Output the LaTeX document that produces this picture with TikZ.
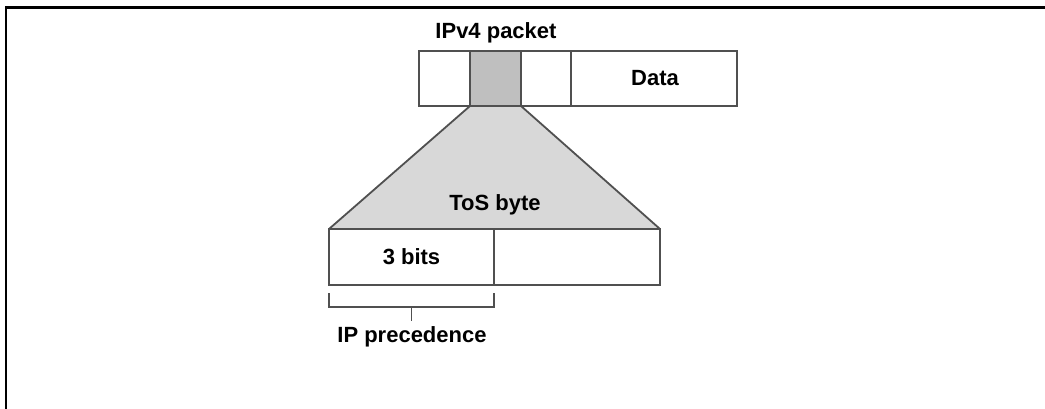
\documentclass[tikz,border=0pt]{standalone}
\usepackage{fontspec}
\setmainfont{Liberation Sans}
\definecolor{cellgray}{HTML}{BFBFBF}
\definecolor{trapgray}{HTML}{D8D8D8}
\definecolor{edge}{HTML}{505050}
\tikzset{
  cell/.style={draw=edge, line width=1.8pt, minimum height=55pt, inner sep=0pt, outer sep=0pt, anchor=north west},
  lbl/.style={font=\fontsize{22}{22}\selectfont\bfseries, inner sep=0pt, text=black},
  frameline/.style={line width=2.7pt, black},
}
\begin{document}
\begin{tikzpicture}[x=1pt,y=-1pt]
\useasboundingbox (0,0) rectangle (1045,409);
\draw[frameline] (6,409) -- (6,7.8) -- (1045,7.8);
% trapezoid
\coordinate (ttl) at (470,106);
\coordinate (ttr) at (521,106);
\coordinate (tbl) at (329,229);
\coordinate (tbr) at (660,229);
\fill[trapgray] (ttl) -- (ttr) -- (tbr) -- (tbl) -- cycle;
\draw[edge, line width=1.8pt] (ttl) -- (tbl);
\draw[edge, line width=1.8pt] (ttr) -- (tbr);
% packet
\node[cell, minimum width=51pt] (c1) at (419,51) {};
\node[cell, minimum width=51pt, fill=cellgray] (c2) at (470,51) {};
\node[cell, minimum width=50pt] (c3) at (521,51) {};
\node[cell, minimum width=166pt] (data) at (571,51) {};
\node[lbl] at (655,78) {Data};
\node[lbl] (pkt) at (496,33) {IPv4 packet};
% ToS byte
\node[cell, minimum width=165pt, minimum height=56pt] (tb1) at (329,229) {};
\node[cell, minimum width=166pt, minimum height=56pt] (tb2) at (494,229) {};
\node[lbl] (tos) at (495,205) {ToS byte};
\node[lbl] (bits) at (tb1.center) {3 bits};
% bracket
\coordinate (bA) at (329,293);
\coordinate (bB) at (329,307);
\coordinate (bC) at (494,307);
\coordinate (bD) at (494,293);
\coordinate (bM) at (411.5,307);
\coordinate (bT) at (411.5,321);
\draw[edge, line width=1.5pt] (bA) -- (bB) -- (bC) -- (bD);
\draw[edge, line width=1.5pt] (bM) -- (bT);
\node[lbl] (prec) at (412,337) {IP precedence};
\end{tikzpicture}
\end{document}
